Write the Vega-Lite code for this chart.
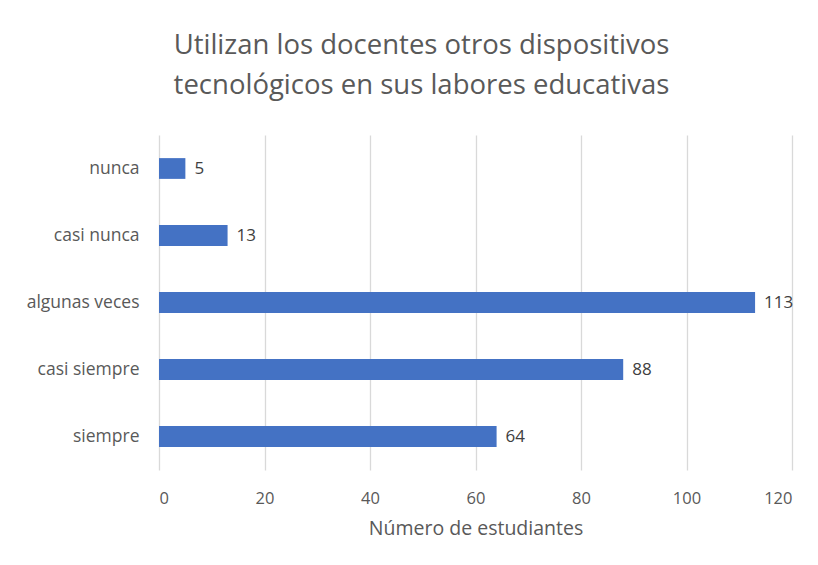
{
  "$schema": "https://vega.github.io/schema/vega-lite/v6.json",
  "width": 633,
  "height": 335,
  "autosize": "none",
  "padding": {"left": 159, "top": 135, "right": 26, "bottom": 95},
  "background": "white",
  "config": {"view": {"stroke": null}, "font": "Open Sans"},
  "title": {
    "text": ["Utilizan los docentes otros dispositivos", "tecnológicos en sus labores educativas"],
    "fontSize": 27.5,
    "fontWeight": "normal",
    "color": "#595959",
    "font": "Open Sans",
    "anchor": "middle",
    "frame": "group",
    "dx": -54,
    "lineHeight": 40,
    "offset": 36
  },
  "data": {
    "values": [
      {"respuesta": "nunca", "n": 5},
      {"respuesta": "casi nunca", "n": 13},
      {"respuesta": "algunas veces", "n": 113},
      {"respuesta": "casi siempre", "n": 88},
      {"respuesta": "siempre", "n": 64}
    ]
  },
  "encoding": {
    "y": {
      "field": "respuesta",
      "type": "nominal",
      "sort": ["nunca", "casi nunca", "algunas veces", "casi siempre", "siempre"],
      "scale": {"paddingInner": 0.69, "paddingOuter": 0.345},
      "axis": {
        "title": null,
        "ticks": false,
        "domain": false,
        "labelPadding": 20,
        "labelFontSize": 17.5,
        "labelColor": "#595959",
        "labelFont": "Open Sans"
      }
    },
    "x": {
      "field": "n",
      "type": "quantitative",
      "scale": {"domain": [0, 120]},
      "axis": {
        "values": [0, 20, 40, 60, 80, 100, 120],
        "title": "Número de estudiantes",
        "titleFontSize": 19.5,
        "titleFontWeight": "normal",
        "titleColor": "#595959",
        "titleFont": "Open Sans",
        "titlePadding": 13,
        "ticks": false,
        "domain": false,
        "labelPadding": 20,
        "labelFontSize": 16.5,
        "labelColor": "#595959",
        "labelFont": "Open Sans",
        "grid": true,
        "gridColor": "#d9d9d9",
        "gridWidth": 1.3
      }
    }
  },
  "layer": [
    {"mark": {"type": "bar", "color": "#4472C4"}},
    {
      "mark": {"type": "text", "align": "left", "dx": 9, "fontSize": 17, "color": "#404040", "font": "Open Sans"},
      "encoding": {"text": {"field": "n", "type": "quantitative"}}
    }
  ]
}
